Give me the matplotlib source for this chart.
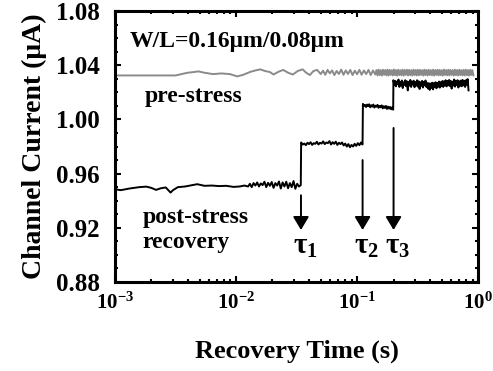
import numpy as np
import matplotlib
matplotlib.use('Agg')
import matplotlib.pyplot as plt
from matplotlib.ticker import FixedLocator, MultipleLocator, FuncFormatter, LogLocator

plt.rcParams['font.family'] = ['Liberation Serif', 'DejaVu Serif']
plt.rcParams['font.weight'] = 'bold'
plt.rcParams['mathtext.fontset'] = 'custom'
plt.rcParams['mathtext.rm'] = 'Liberation Serif'
plt.rcParams['mathtext.it'] = 'Liberation Serif:bold'
plt.rcParams['mathtext.bf'] = 'Liberation Serif:bold'

# pre-stress current (gray), log10(time) / value pairs for the slow part
pre_logt = [-3.00, -2.50, -2.45, -2.40, -2.35, -2.31, -2.26, -2.19, -2.12, -2.05,
            -1.99, -1.94, -1.88, -1.84, -1.80, -1.76, -1.72, -1.69, -1.65, -1.61,
            -1.57, -1.53, -1.49, -1.45, -1.42, -1.39, -1.36, -1.33]
pre_val = [1.0325, 1.0325, 1.0335, 1.0345, 1.0350, 1.0355, 1.0345, 1.0335, 1.0340, 1.0335,
           1.0318, 1.0330, 1.0352, 1.0362, 1.0370, 1.0358, 1.0350, 1.0332, 1.0352, 1.0366,
           1.0345, 1.0332, 1.0358, 1.0370, 1.0345, 1.0328, 1.0358, 1.0366]
# zigzag part, -1.30 .. -0.85
pre_zig = [1.0335, 1.0360, 1.0330, 1.0366, 1.0340, 1.0362, 1.0328, 1.0358, 1.0336, 1.0368,
           1.0330, 1.0362, 1.0336, 1.0366, 1.0328, 1.0360, 1.0334, 1.0366, 1.0330, 1.0362,
           1.0335, 1.0366, 1.0328, 1.0362, 1.0332]
# dense band, -0.84 .. -0.04
pre_band = [1.0365, 1.0325, 1.0368, 1.0328, 1.0364, 1.0324, 1.0367, 1.0330, 1.0365, 1.0326,
            1.0368, 1.0324, 1.0366, 1.0329, 1.0364, 1.0325, 1.0369, 1.0327, 1.0365, 1.0323,
            1.0367, 1.0328, 1.0364, 1.0326, 1.0368, 1.0324, 1.0365, 1.0329, 1.0367, 1.0325,
            1.0366, 1.0327, 1.0364, 1.0324, 1.0368, 1.0328, 1.0365, 1.0325, 1.0367, 1.0326,
            1.0366, 1.0329, 1.0364, 1.0324, 1.0368, 1.0327, 1.0365, 1.0325, 1.0367, 1.0328,
            1.0364, 1.0326, 1.0368, 1.0324, 1.0365, 1.0329, 1.0367, 1.0325, 1.0366, 1.0327,
            1.0364, 1.0324, 1.0368, 1.0328, 1.0365, 1.0326, 1.0367, 1.0325, 1.0366, 1.0329,
            1.0364, 1.0324, 1.0368, 1.0327, 1.0365, 1.0325, 1.0367, 1.0328, 1.0364, 1.0326,
            1.0366, 1.0325, 1.0368, 1.0327, 1.0365, 1.0324, 1.0367, 1.0328, 1.0364, 1.0326]

# post-stress recovery current (black)
post_logt = [-3.00, -2.95, -2.88, -2.80, -2.74, -2.70, -2.66, -2.62, -2.58, -2.54,
             -2.52, -2.48, -2.42, -2.36, -2.32, -2.26, -2.20, -2.14, -2.08, -2.02,
             -1.97, -1.93]
post_val = [0.9484, 0.9478, 0.9490, 0.9500, 0.9504, 0.9495, 0.9480, 0.9492, 0.9498, 0.9460,
            0.9478, 0.9500, 0.9505, 0.9515, 0.9522, 0.9510, 0.9512, 0.9508, 0.9510, 0.9502,
            0.9505, 0.9512]
# noisy part before tau1, -1.90 .. -1.465
post_a = [0.9505, 0.9525, 0.9500, 0.9530, 0.9512, 0.9535, 0.9505, 0.9528, 0.9515, 0.9540,
          0.9500, 0.9532, 0.9510, 0.9538, 0.9495, 0.9530, 0.9512, 0.9542, 0.9490, 0.9535,
          0.9505, 0.9540, 0.9492, 0.9530, 0.9500, 0.9545, 0.9488, 0.9525, 0.9505, 0.9515]
# level after tau1, -1.462 .. -0.955
post_b = [0.9830, 0.9815, 0.9822, 0.9810, 0.9828, 0.9818, 0.9832, 0.9812, 0.9825, 0.9820,
          0.9835, 0.9815, 0.9828, 0.9822, 0.9838, 0.9818, 0.9830, 0.9825, 0.9840, 0.9815,
          0.9832, 0.9820, 0.9836, 0.9812, 0.9828, 0.9818, 0.9830, 0.9808, 0.9822, 0.9800,
          0.9818, 0.9795, 0.9812, 0.9800, 0.9820, 0.9805, 0.9825, 0.9810, 0.9830, 0.9815]
# level after tau2, -0.952 .. -0.702
post_c = [1.0115, 1.0100, 1.0108, 1.0092, 1.0110, 1.0098, 1.0112, 1.0090, 1.0105, 1.0095,
          1.0110, 1.0088, 1.0102, 1.0094, 1.0108, 1.0086, 1.0100, 1.0090, 1.0104, 1.0082,
          1.0098, 1.0085, 1.0100, 1.0078, 1.0095, 1.0080, 1.0092, 1.0075, 1.0090, 1.0072]
# level after tau3, -0.700 .. -0.08
post_d = [1.0290, 1.0255, 1.0285, 1.0245, 1.0280, 1.0260, 1.0295, 1.0240, 1.0278, 1.0250,
          1.0288, 1.0232, 1.0275, 1.0255, 1.0290, 1.0245, 1.0282, 1.0215, 1.0278, 1.0250,
          1.0292, 1.0240, 1.0280, 1.0258, 1.0286, 1.0238, 1.0276, 1.0250, 1.0290, 1.0242,
          1.0282, 1.0225, 1.0275, 1.0248, 1.0285, 1.0236, 1.0278, 1.0252, 1.0288, 1.0240,
          1.0270, 1.0228, 1.0268, 1.0218, 1.0265, 1.0232, 1.0272, 1.0222, 1.0268, 1.0238,
          1.0275, 1.0230, 1.0270, 1.0242, 1.0280, 1.0235, 1.0276, 1.0245, 1.0284, 1.0240,
          1.0282, 1.0250, 1.0290, 1.0244, 1.0285, 1.0252, 1.0292, 1.0246, 1.0284, 1.0228,
          1.0280, 1.0250, 1.0295, 1.0242, 1.0286, 1.0255, 1.0290, 1.0236, 1.0282, 1.0248,
          1.0288, 1.0245, 1.0292, 1.0252, 1.0286, 1.0240, 1.0290, 1.0256, 1.0298, 1.0215]

taus = [0.0344, 0.111, 0.20]
tau_labels = [r'$\tau_1$', r'$\tau_2$', r'$\tau_3$']
arrow_top = [0.944, 0.970, 0.9937]
arrow_tip = 0.9184

# build time axes for each piece
pre_t = np.concatenate([10.0**np.array(pre_logt),
                        np.logspace(-1.30, -0.85, len(pre_zig)),
                        np.logspace(-0.84, -0.04, len(pre_band))])
pre_y = np.concatenate([pre_val, pre_zig, pre_band])

post_t = np.concatenate([10.0**np.array(post_logt),
                         np.logspace(-1.90, -1.465, len(post_a)),
                         np.logspace(-1.462, -0.955, len(post_b)),
                         np.logspace(-0.952, -0.702, len(post_c)),
                         np.logspace(-0.700, -0.08, len(post_d))])
post_y = np.concatenate([post_val, post_a, post_b, post_c, post_d])

fig = plt.figure(figsize=(4.93, 3.71), dpi=100)
ax = fig.add_axes([0.233, 0.240, 0.737, 0.730])

ax.plot(pre_t, pre_y, color='#8a8a8a', lw=1.4)
ax.plot(post_t, post_y, color='black', lw=1.4)

for tau, top, lab in zip(taus, arrow_top, tau_labels):
    ax.annotate('', xy=(tau, arrow_tip), xytext=(tau, top),
                arrowprops=dict(arrowstyle='-|>,head_length=0.5,head_width=0.3',
                                color='black', lw=1.4, mutation_scale=16,
                                shrinkA=0, shrinkB=0))
    ax.annotate(lab, xy=(tau, 0.9005), xytext=(-6, 0), textcoords='offset points',
                ha='left', va='baseline', fontsize=21)

ax.text(0.041, 0.867, 'W/L=0.16\u03bcm/0.08\u03bcm', transform=ax.transAxes,
        fontsize=17, fontweight='bold', va='baseline')
ax.text(0.083, 0.664, 'pre-stress', transform=ax.transAxes,
        fontsize=17, fontweight='bold', va='baseline')
ax.text(0.077, 0.218, 'post-stress', transform=ax.transAxes,
        fontsize=17, fontweight='bold', va='baseline')
ax.text(0.077, 0.125, 'recovery', transform=ax.transAxes,
        fontsize=17, fontweight='bold', va='baseline')

ax.set_xscale('log')
ax.set_xlim(1e-3, 1)
ax.set_ylim(0.88, 1.08)
ax.xaxis.set_major_locator(FixedLocator([1e-3, 1e-2, 1e-1, 1]))
ax.xaxis.set_minor_locator(LogLocator(base=10, subs=np.arange(2, 10)))
ax.xaxis.set_major_formatter(FuncFormatter(lambda v, p: r'$\mathbf{10^{%d}}$' % round(np.log10(v))))
ax.yaxis.set_major_locator(MultipleLocator(0.04))
ax.yaxis.set_minor_locator(MultipleLocator(0.01))
ax.yaxis.set_major_formatter(FuncFormatter(lambda v, p: '%.2f' % v))

ax.tick_params(which='both', direction='in', top=True, right=True, width=1.5)
ax.tick_params(which='major', length=4)
ax.tick_params(axis='y', which='major', pad=11, labelsize=18)
ax.tick_params(axis='x', which='major', pad=8, labelsize=15)
ax.tick_params(which='minor', length=2.5)
for lbl in ax.get_yticklabels():
    lbl.set_fontweight('bold')
for s in ax.spines.values():
    s.set_linewidth(2.2)

ax.set_xlabel('Recovery Time (s)', fontsize=19, fontweight='bold', labelpad=18)
ax.set_ylabel('Channel Current (\u03bcA)', fontsize=20, fontweight='bold', labelpad=6)

fig.savefig('out.png', dpi=100)
